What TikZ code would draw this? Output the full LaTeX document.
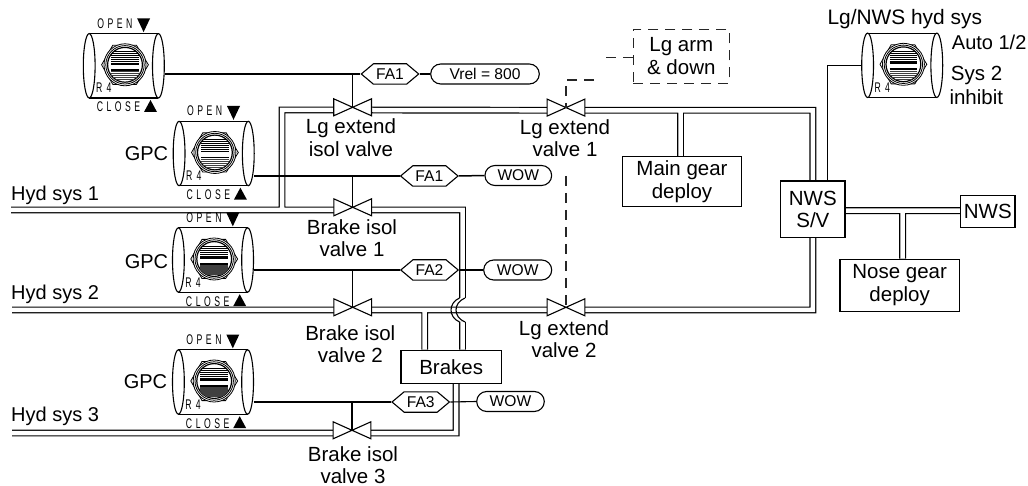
\documentclass[tikz,border=0pt]{standalone}
\usepackage{fontspec}
\setmainfont{Liberation Sans}
\newfontfamily\panelfont[FakeStretch=0.62,LetterSpace=25]{Liberation Sans}
\newfontfamily\rfourfont[FakeStretch=0.62,LetterSpace=13]{Liberation Sans}
\usetikzlibrary{backgrounds,shapes.misc,shapes.symbols}

\newcommand{\hydpipes}{
  (hydone) -- (brakeone-port.west)
  (brakeone-port.east) -| (hoptop)
  (hopbot) -- (hopbot |- brakes.north)
  (looptee) |- (isol-port.west)
  (isol-port.east) -- (lgone-port.west)
  (lgone-port.east) -| (nwssv.north)
  ([xshift=-1.5]maingear.north) -- ([xshift=-1.5]maingear.north |- lgone-port.east)
  (hydtwo) -- (braketwo-port.west)
  (braketwo-port.east) -- (lgtwo-port.west)
  (lgtwo-port.east) -| (nwssv.south)
  (brakestee) -- (brakestee |- brakes.north)
  (hydthree) -- (brakethree-port.west)
  (brakethree-port.east) -| ([xshift=5]brakes.south)
  ([yshift=1]nwsbox.west) -- ([yshift=1]nwsbox.west -| nwssv.east)
  ([xshift=3]nosegear.north) -- ([xshift=3,yshift=1]nosegear.north |- nwsbox.west)
}

\begin{document}
\begin{tikzpicture}[x=1pt, y=-1pt,
    label/.style={inner sep=0pt, align=center, font=\fontsize{20.5}{22.5}\selectfont},
    sidelabel/.style={inner sep=0pt, anchor=west, font=\fontsize{20}{22.5}\selectfont},
    box/.style={draw, fill=white, line width=1.1pt, inner sep=0pt, align=center,
                font=\fontsize{20.5}{22.5}\selectfont},
    hexa/.style={draw, fill=white, line width=1.1pt, signal, signal to=west and east,
                 signal pointer angle=80, inner sep=0pt, minimum width=57.4pt,
                 minimum height=20.4pt, font=\fontsize{15.6}{18}\selectfont},
    pill/.style={draw, fill=white, line width=1.1pt, rounded rectangle, inner sep=0pt,
                 minimum height=20pt, font=\fontsize{15.6}{18}\selectfont},
    sigline/.style={line width=1.5pt},
    thinline/.style={line width=1.1pt},
    armdash/.style={line width=1.3pt, black!85, dash pattern=on 10pt off 7pt},
    pipeouter/.style={line width=6.9pt},
    pipeinner/.style={line width=4.5pt, white},
    togglesw/.pic={
      \node[minimum width=81pt, minimum height=64.5pt, inner sep=0pt] (-body) at (0,0) {};
      \draw[line width=1.1pt] (-34.6,-32.2) -- (34.6,-32.2) (-34.6,32.2) -- (34.6,32.2);
      \draw[line width=1.1pt, fill=white] (-34.6,0) ellipse[x radius=5.9, y radius=32.2];
      \draw[line width=1.1pt, fill=white] (34.6,0) ellipse[x radius=5.9, y radius=32.2];
      \draw[line width=.8pt] (-22.2,-1) -- (-11,-20.6) -- (12.6,-20.6) -- (24.6,-1) -- (12.6,18.6) -- (-11,18.6) -- cycle;
      \draw[line width=.8pt, fill=white] (1.2,-1) circle[radius=21];
      \draw[line width=.8pt] (1.2,-1) circle[radius=19.2];
      \draw[line width=1.2pt] (1.2,-1) circle[radius=17.4];
      \begin{scope}
        \clip (1.2,-1) circle[radius=17.4];
        \draw[line width=.7pt] (-12.6,-14) -- (15,-14) (-12.6,-12) -- (15,-12) (-12.6,-10) -- (15,-10)
          (-12.6,-8) -- (15,-8) (-12.6,-6) -- (15,-6) (-12.6,-4) -- (15,-4);
        \draw[line width=1.6pt] (-12.6,-2) -- (15,-2) (-12.6,4) -- (15,4);
        \draw[line width=1.1pt, black!75] (-12.6,6) -- (15,6) (-12.6,8) -- (15,8) (-12.6,10) -- (15,10)
          (-12.6,12) -- (15,12) (-12.6,14) -- (15,14);
      \end{scope}
      \node[inner sep=0pt, font=\rfourfont\fontsize{14}{14}\selectfont] (-rfour) at (-20,22.2) {R 4};
    },
    openclose/.pic={
      \node[inner sep=0pt, font=\panelfont\fontsize{14}{14}\selectfont] (-open) at (-9,-42.5) {OPEN};
      \node[inner sep=0pt, font=\panelfont\fontsize{14}{14}\selectfont] (-close) at (-5.3,41.2) {CLOSE};
      \fill (13.3,-47.5) -- (26.3,-47.5) -- (19.8,-33.7) -- cycle;
      \fill (20.2,46.2) -- (33.2,46.2) -- (26.7,34.2) -- cycle;
    },
    valvetie/.pic={
      \node[minimum width=37.4pt, minimum height=5pt, inner sep=0pt] (-port) at (0,0) {};
      \draw[line width=1.1pt, fill=white] ([yshift=8.5]-port.north west) -- ([yshift=-8.5]-port.north east)
        -- ([yshift=8.5]-port.north east) -- ([yshift=-8.5]-port.north west) -- cycle;
    }
  ]
  \useasboundingbox (0,0) rectangle (1028,486);

  % switch panels
  \pic (swone) at (123.8,65.8) {togglesw};
  \pic (swonemark) at (123.8,65.8) {openclose};
  \pic (swtwo) at (213.7,153.5) {togglesw};
  \pic (swtwomark) at (213.7,153.5) {openclose};
  \pic (swthree) at (213,260) {togglesw};
  \pic (swthreemark) at (213,260) {openclose};
  \pic (swfour) at (213,382) {togglesw};
  \pic (swfourmark) at (213,382) {openclose};
  \pic (swnws) at (902.2,65.3) {togglesw};

  % boxes
  \node[box, minimum width=118.6pt, minimum height=50pt] (maingear) at (682,181.7) {Main gear\\deploy};
  \node[box, minimum width=64.3pt, minimum height=56.7pt] (nwssv) at (812.85,209.35) {NWS\\S/V};
  \node[box, minimum width=119.3pt, minimum height=52pt] (nosegear) at (899.65,285.3) {Nose gear\\deploy};
  \node[box, minimum width=54.3pt, minimum height=32.7pt] (nwsbox) at (987.85,211.6) {NWS};
  \node[box, minimum width=100.3pt, minimum height=33.3pt] (brakes) at (451.15,366.7) {Brakes};
  \node[label, draw, line width=1.3pt, black!85, text=black, dash pattern=on 10pt off 7pt,
        minimum width=96pt, minimum height=54pt] (lgarm) at (681.3,56.3) {Lg arm\\\& down};

  % valves
  \pic (isol) at (352.6,110) {valvetie};
  \pic (lgone) at (566,110.3) {valvetie};
  \pic (brakeone) at (352.7,210) {valvetie};
  \pic (braketwo) at (352.7,310) {valvetie};
  \pic (lgtwo) at (566,310) {valvetie};
  \pic (brakethree) at (352,433) {valvetie};

  % pipe ends and tees
  \coordinate (hydone) at (11,210);
  \coordinate (hydtwo) at (12,310);
  \coordinate (hydthree) at (12,433);
  \coordinate (looptee) at (282,210);
  \coordinate (hoptop) at (462.5,298);
  \coordinate (hopbot) at (462.5,322);
  \coordinate (brakestee) at (424.7,310);

  \begin{scope}[on background layer]
    \draw[pipeouter] \hydpipes;
    \draw[pipeinner] \hydpipes;
  \end{scope}
  \draw[thinline] ([xshift=-3]hoptop) .. controls (448.2,303) and (448.2,317) .. ([xshift=-3]hopbot);
  \draw[thinline] ([xshift=2.5]hoptop) .. controls (453,303) and (453,317) .. ([xshift=2.5]hopbot);

  % discrete signals
  \node[hexa] (faone) at (390,74) {FA1};
  \node[pill, minimum width=108.6pt] (vrel) at (485,74) {Vrel = 800};
  \node[hexa] (fatwo) at (429.3,176) {FA1};
  \node[pill, minimum width=66.7pt] (wowone) at (518.3,175.5) {WOW};
  \node[hexa] (fathree) at (429.5,270) {FA2};
  \node[pill, minimum width=68pt] (wowtwo) at (517.7,270) {WOW};
  \node[hexa] (fafour) at (420.7,402) {FA3};
  \node[pill, minimum width=67.6pt] (wowthree) at (510.5,401.5) {WOW};

  \draw[sigline] (swone-body.east |- faone.west) -- (faone.west);
  \draw[sigline] (isol-port.north |- faone.west) -- (isol-port.north);
  \draw[sigline] (faone.east) -- (vrel.west);
  \draw[sigline] (swtwo-body.east |- fatwo.west) -- (fatwo.west);
  \draw[sigline] (brakeone-port.north |- fatwo.west) -- (brakeone-port.north);
  \draw[sigline] (fatwo.east) -- (wowone.west);
  \draw[sigline] (swthree-body.east |- fathree.west) -- (fathree.west);
  \draw[sigline] (braketwo-port.north |- fathree.west) -- (braketwo-port.north);
  \draw[sigline] (fathree.east) -- (wowtwo.west);
  \draw[sigline] (swfour-body.east |- fafour.west) -- (fafour.west);
  \draw[sigline] (brakethree-port.north |- fafour.west) -- (brakethree-port.north);
  \draw[thinline] (fafour.east) -- (wowthree.west);
  \draw[thinline] (swnws-body.west) -| ([xshift=15]nwssv.north);

  % arm and down discrete
  \coordinate (armgap) at (605,57.7);
  \coordinate (armrise) at (594,80);
  \coordinate (armdrop) at (566,176);
  \draw[armdash] ([yshift=-1.4]lgarm.west) -- (armgap);
  \draw[armdash] (armrise) -| (lgone-port.north);
  \draw[armdash] (armdrop) -- (lgtwo-port.north);

  % labels
  \node[label] (isoltext) at (351,137.5) {Lg extend\\isol valve};
  \node[label] (lgonetext) at (565,138) {Lg extend\\valve 1};
  \node[label] (brakeonetext) at (352,238) {Brake isol\\valve 1};
  \node[label] (braketwotext) at (350.3,344) {Brake isol\\valve 2};
  \node[label] (lgtwotext) at (564,339) {Lg extend\\valve 2};
  \node[label] (brakethreetext) at (353,465) {Brake isol\\valve 3};
  \node[sidelabel] (hydonetext) at (11,195) {Hyd sys 1};
  \node[sidelabel] (hydtwotext) at (11,294) {Hyd sys 2};
  \node[sidelabel] (hydthreetext) at (11,416.7) {Hyd sys 3};
  \node[sidelabel, anchor=east] (gpctwo) at (168.3,154) {GPC};
  \node[sidelabel, anchor=east] (gpcthree) at (168.3,261.7) {GPC};
  \node[sidelabel, anchor=east] (gpcfour) at (167.3,382) {GPC};
  \node[label, anchor=west, font=\fontsize{20.9}{22.5}\selectfont] (nwstitle) at (827.3,19) {Lg/NWS hyd sys};
  \node[sidelabel] (autotext) at (951.7,42.7) {Auto 1/2};
  \node[label, anchor=west] (systext) at (950.7,75) {Sys 2};
  \node[label, anchor=west] (inhibittext) at (949.3,96.7) {inhibit};
\end{tikzpicture}
\end{document}
